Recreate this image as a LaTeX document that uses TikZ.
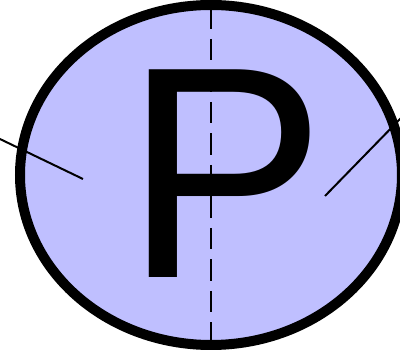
\documentclass[tikz,border=0pt]{standalone}
\usepackage{fontspec}
\setmainfont{Liberation Sans}
\usetikzlibrary{shapes.geometric}
\definecolor{wheelblue}{RGB}{191,191,255}
\begin{document}
\begin{tikzpicture}[x=1pt, y=1pt, spoke/.style={line width=2pt}]
\clip (0,0) rectangle (400,356);
\node[ellipse, draw, line width=10pt, fill=wheelblue, inner sep=0pt, minimum width=382pt, minimum height=340pt] (wheel) at (211,181) {};
\node[anchor=base, inner sep=0pt, font=\fontsize{302}{303}\selectfont] (letter) at (225,78) {P};
\draw[line width=2pt, dash pattern=on 21.5pt off 10pt, dash phase=24pt] (wheel.north) -- (wheel.south);
\coordinate (leftout) at (-20,226.6);
\coordinate (leftin) at (83,177);
\coordinate (rightin) at (325,160);
\coordinate (rightout) at (420,257.5);
\draw[spoke] (leftout) -- (leftin);
\draw[spoke] (rightin) -- (rightout);
\end{tikzpicture}
\end{document}
